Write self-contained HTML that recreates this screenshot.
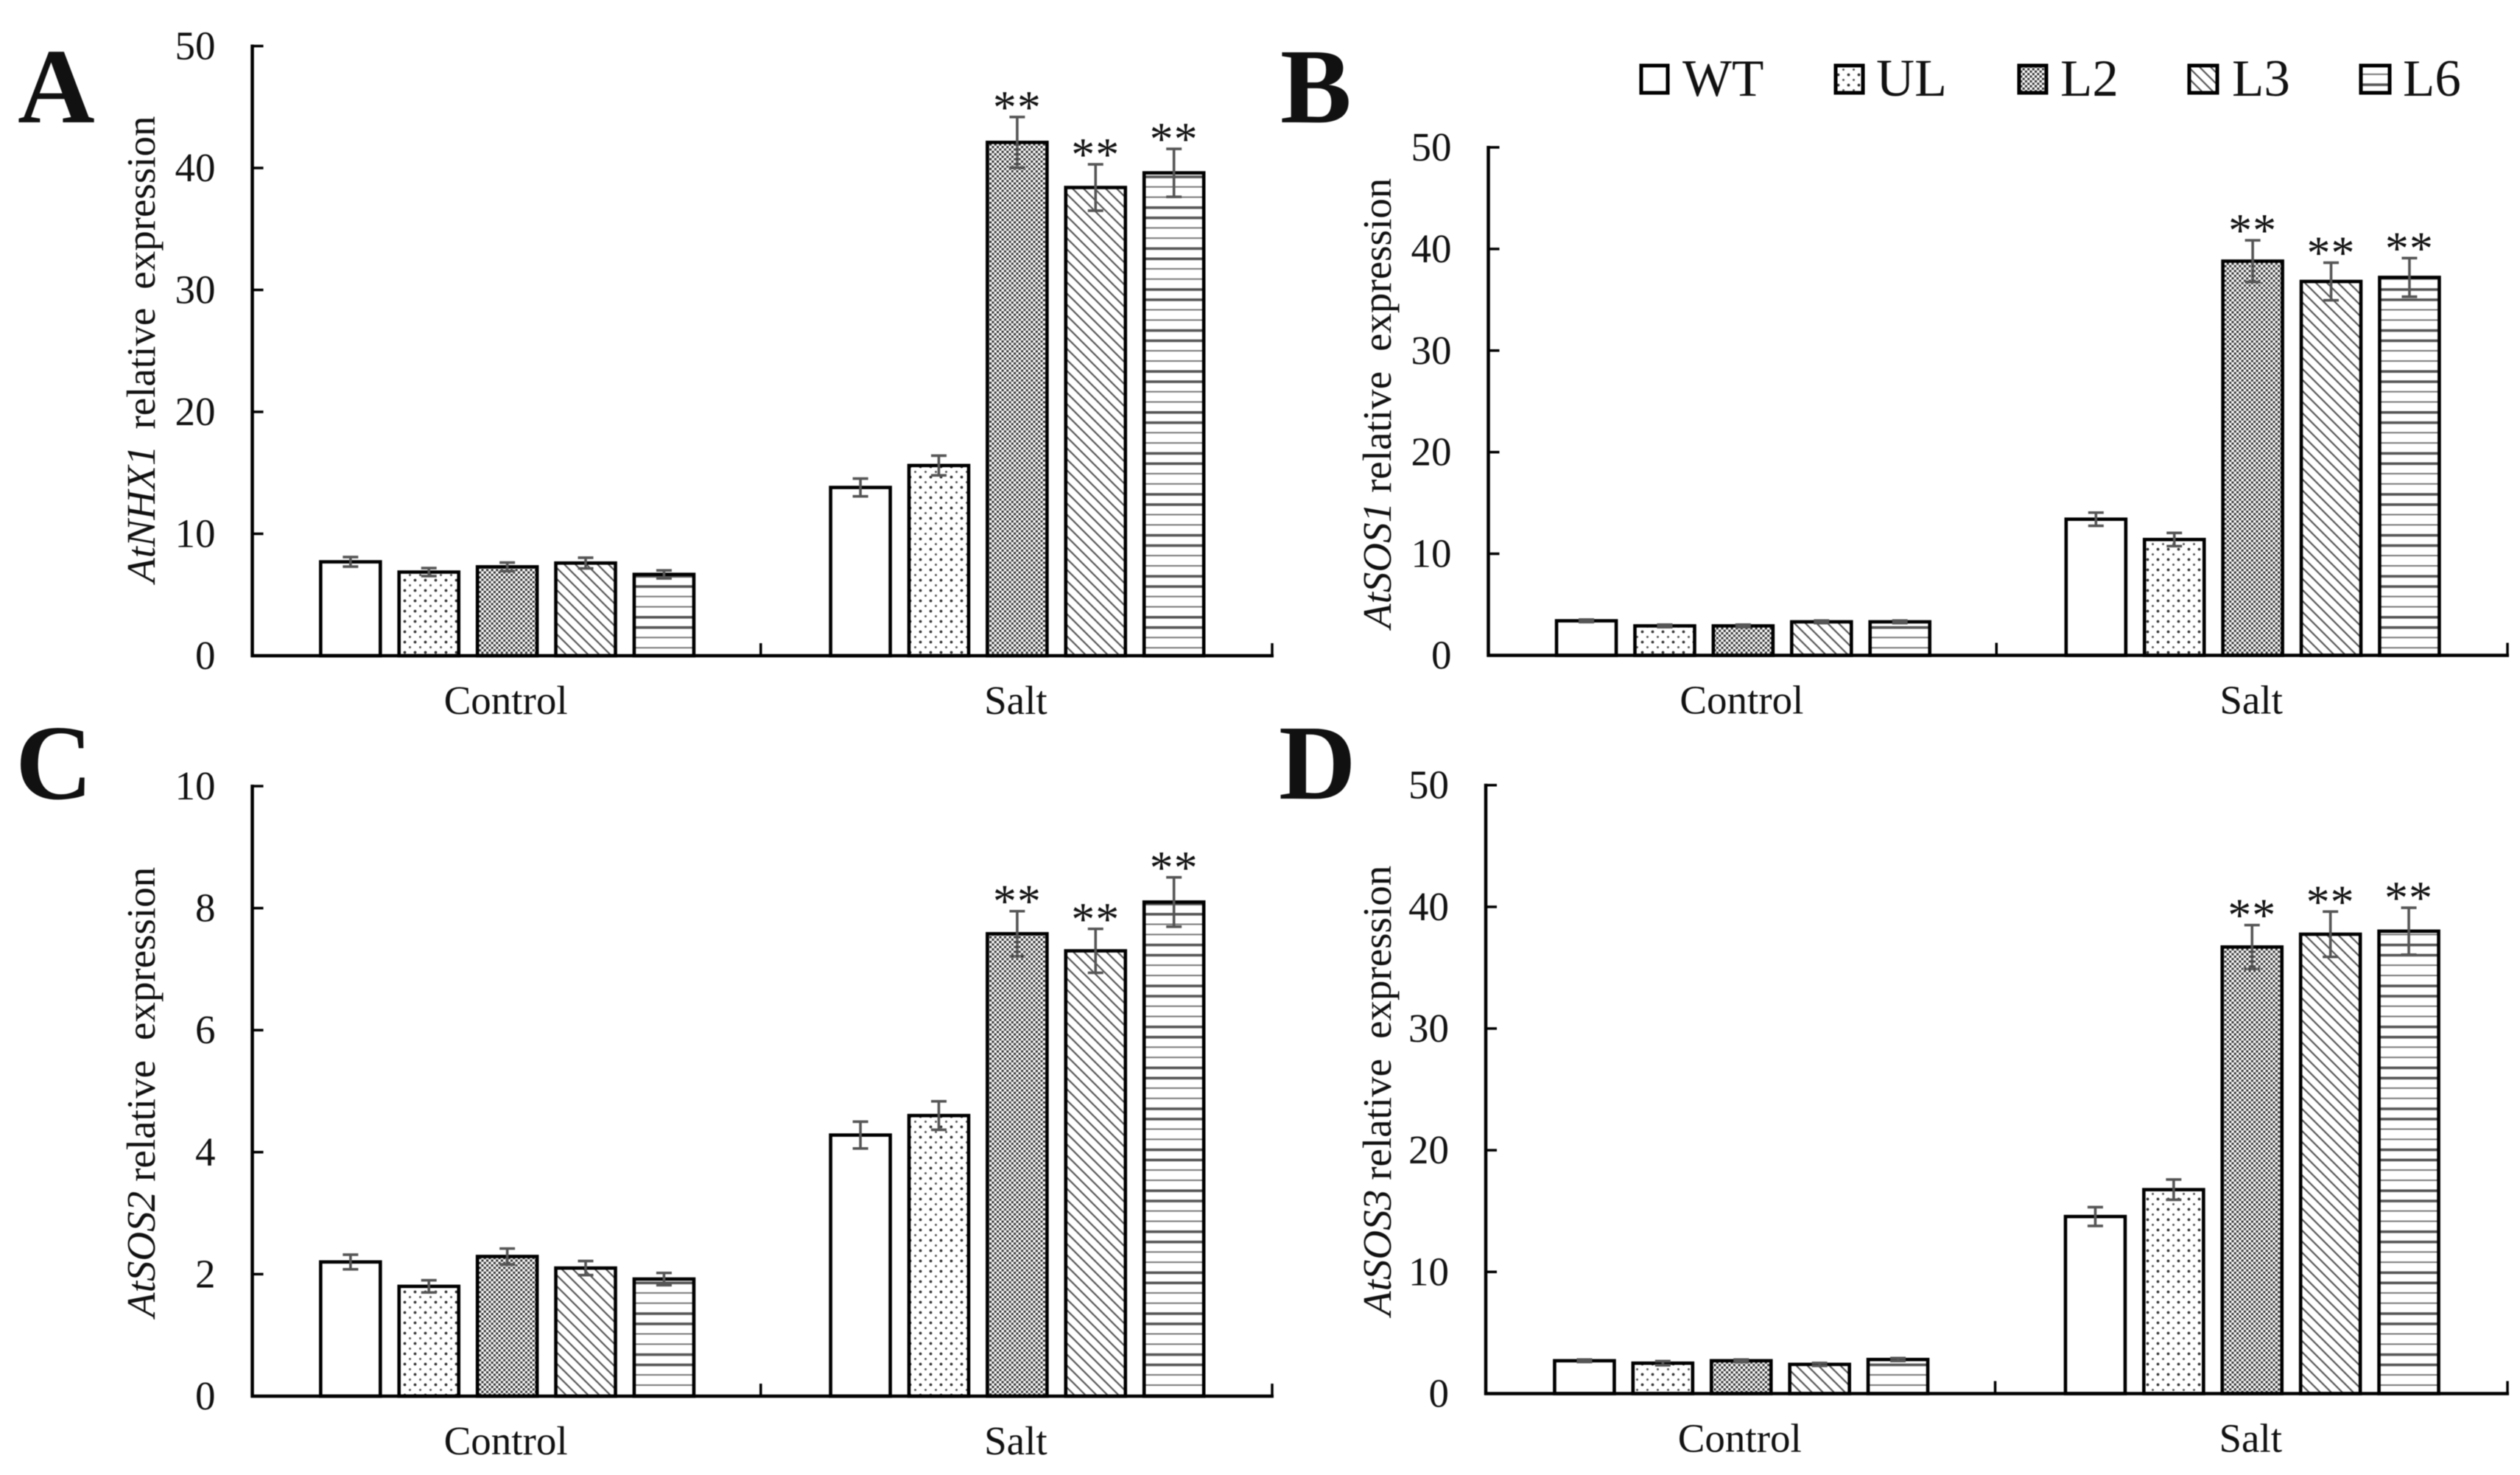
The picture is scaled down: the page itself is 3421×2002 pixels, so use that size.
<!DOCTYPE html>
<html lang="en">
<head>
<meta charset="utf-8">
<title>Relative expression of salt-response genes</title>
<style>
html,body{margin:0;padding:0;background:#fff;}
svg{display:block;font-family:"Liberation Serif",serif;filter:blur(0.6px);}
text{fill:#111;}
</style>
</head>
<body>
<svg id="figure" xmlns="http://www.w3.org/2000/svg" width="3421" height="2002" viewBox="0 0 3421 2002">
  <defs>
    <pattern id="fill-wt" patternUnits="userSpaceOnUse" width="10" height="10">
      <rect width="10" height="10" fill="#fff"/>
    </pattern>
    <pattern id="fill-ul" patternUnits="userSpaceOnUse" width="14" height="14">
      <rect width="14" height="14" fill="#fff"/>
      <circle cx="3.5" cy="3.5" r="1.9" fill="#333"/>
      <circle cx="10.5" cy="10.5" r="1.5" fill="#555"/>
    </pattern>
    <pattern id="fill-l2" patternUnits="userSpaceOnUse" width="6.6" height="6.6">
      <rect width="6.6" height="6.6" fill="#fff"/>
      <rect x="0" y="0" width="3.1" height="3.1" fill="#333"/>
      <rect x="3.3" y="3.3" width="3.1" height="3.1" fill="#333"/>
    </pattern>
    <pattern id="fill-l3" patternUnits="userSpaceOnUse" width="15" height="15">
      <rect width="15" height="15" fill="#fff"/>
      <path d="M-2,-2 L17,17 M-2,13 L2,17 M13,-2 L17,2" stroke="#555" stroke-width="2.2" fill="none"/>
    </pattern>
    <pattern id="fill-l6" patternUnits="userSpaceOnUse" width="55.6" height="55.6">
      <rect width="55.6" height="55.6" fill="#fff"/>
      <rect y="2" width="55.6" height="3.6" fill="#555"/>
      <rect y="15.9" width="55.6" height="3.6" fill="#555"/>
      <rect y="30.3" width="55.6" height="2" fill="#777"/>
      <rect y="44.2" width="55.6" height="2" fill="#777"/>
    </pattern>
  </defs>

  <text x="24" y="166" font-size="145" font-weight="bold">A</text>
  <text x="1738" y="166" font-size="145" font-weight="bold">B</text>
  <text x="21" y="1084" font-size="145" font-weight="bold">C</text>
  <text x="1736" y="1084" font-size="145" font-weight="bold">D</text>

  <g>
    <rect x="2228" y="89" width="36" height="37" fill="url(#fill-wt)" stroke="#000" stroke-width="5"/>
    <text x="2284" y="130" font-size="71">WT</text>
    <rect x="2492" y="89" width="37" height="37" fill="url(#fill-ul)" stroke="#000" stroke-width="5"/>
    <text x="2547" y="130" font-size="72">UL</text>
    <rect x="2741" y="89" width="37" height="37" fill="url(#fill-l2)" stroke="#000" stroke-width="5"/>
    <text x="2797" y="130" font-size="71">L2</text>
    <rect x="2972" y="89" width="38" height="37" fill="url(#fill-l3)" stroke="#000" stroke-width="5"/>
    <text x="3030" y="130" font-size="71">L3</text>
    <rect x="3205" y="89" width="39" height="37" fill="url(#fill-l6)" stroke="#000" stroke-width="5"/>
    <text x="3262" y="130" font-size="71">L6</text>
  </g>
</svg>

<script>
const categories = ['Control', 'Salt'];
const seriesNames = ['WT', 'UL', 'L2', 'L3', 'L6'];
const significantSalt = [false, false, true, true, true];

const panelATicks = [0, 10, 20, 30, 40, 50];
const panelAControl = [7.7, 6.86, 7.29, 7.6, 6.67];
const panelAControlErr = [0.39, 0.33, 0.35, 0.44, 0.33];
const panelASalt = [13.8, 15.6, 42.1, 38.4, 39.6];
const panelASaltErr = [0.73, 0.81, 2.08, 1.9, 1.97];

const panelBTicks = [0, 10, 20, 30, 40, 50];
const panelBControl = [3.4, 2.9, 2.9, 3.3, 3.3];
const panelBControlErr = [0.12, 0.12, 0.12, 0.12, 0.12];
const panelBSalt = [13.4, 11.4, 38.8, 36.8, 37.2];
const panelBSaltErr = [0.65, 0.65, 2.05, 1.85, 1.9];

const panelCTicks = [0, 2, 4, 6, 8, 10];
const panelCControl = [2.2, 1.8, 2.29, 2.1, 1.92];
const panelCControlErr = [0.12, 0.1, 0.13, 0.115, 0.1];
const panelCSalt = [4.28, 4.6, 7.58, 7.3, 8.1];
const panelCSaltErr = [0.22, 0.233, 0.37, 0.36, 0.405];

const panelDTicks = [0, 10, 20, 30, 40, 50];
const panelDControl = [2.7, 2.5, 2.7, 2.4, 2.8];
const panelDControlErr = [0.1, 0.17, 0.1, 0.12, 0.12];
const panelDSalt = [14.55, 16.76, 36.7, 37.75, 38];
const panelDSaltErr = [0.77, 0.83, 1.8, 1.86, 1.93];

const NS = 'http://www.w3.org/2000/svg';
const root = document.getElementById('figure');
const fills = ['fill-wt', 'fill-ul', 'fill-l2', 'fill-l3', 'fill-l6'];
const BAR_STEP = 106.4;
const BAR_WIDTH = 81;

function make(tag, attrs, parent, text) {
  const node = document.createElementNS(NS, tag);
  for (const key in attrs) node.setAttribute(key, attrs[key]);
  if (text !== undefined) node.textContent = text;
  parent.appendChild(node);
  return node;
}

function drawPanel(p) {
  const g = make('g', {}, root);
  
  

  const maxTick = p.ticks[p.ticks.length - 1];
  const yScale = v => p.y0 - (v / maxTick) * (p.y0 - p.yTop);
  const plotW = p.xEnd - p.x0;
  const bandCenter = c => p.x0 + plotW * (c + 0.5) / categories.length;

  // y axis
  const yAxis = make('line', {x1: p.x0, x2: p.x0, y1: p.yTop - 2, y2: p.y0 + 2, stroke: '#000', 'stroke-width': 4.5}, g);
  
  

  p.ticks.forEach(t => {
    const y = yScale(t);
    const mark = make('line', {x1: p.x0, x2: p.x0 + 15, y1: y, y2: y, stroke: '#000', 'stroke-width': 3.5}, g);
    
    
    const label = make('text', {x: p.x0 - 50, y: y + 18, 'text-anchor': 'end', 'font-size': 55}, g, String(t));
    
    
  });

  // y axis title
  const title = make('text', {
    x: p.titleX, y: p.titleY, 'font-size': 55,
    transform: 'rotate(-90 ' + p.titleX + ' ' + p.titleY + ')'
  }, g);
  
  
  make('tspan', {'font-style': 'italic'}, title, p.gene);
  make('tspan', {dx: p.gaps[0]}, title, 'relative');
  make('tspan', {dx: p.gaps[1]}, title, 'expression');

  // bars
  p.groups.forEach((values, c) => {
    const cx = bandCenter(c);
    values.forEach((v, s) => {
      const x = cx + (s - 2) * BAR_STEP;
      const y = yScale(v);
      const bar = make('rect', {
        x: x - BAR_WIDTH / 2, y: y, width: BAR_WIDTH, height: p.y0 - y,
        fill: 'url(#' + fills[s] + ')', stroke: '#000', 'stroke-width': 4.6
      }, g);
      
      
    });
  });

  // error bars and significance marks
  p.groups.forEach((values, c) => {
    const cx = bandCenter(c);
    values.forEach((v, s) => {
      const x = cx + (s - 2) * BAR_STEP;
      const e = p.errors[c][s];
      const hi = yScale(v + e);
      const lo = yScale(v - e);
      const err = make('path', {
        d: 'M' + (x - 10.5) + ',' + hi + 'H' + (x + 10.5) + 'M' + x + ',' + hi + 'V' + lo + 'M' + (x - 10.5) + ',' + lo + 'H' + (x + 10.5),
        stroke: '#555', 'stroke-width': 3.6, fill: 'none'
      }, g);
      
      
      if (c === 1 && significantSalt[s]) {
        const star = make('text', {x: x, y: hi + 8, 'text-anchor': 'middle', 'font-size': 64, 'letter-spacing': 1, 'font-weight': 'normal'}, g, '**');
        
        
      }
    });
  });

  // x axis
  const xAxis = make('line', {x1: p.x0 - 2, x2: p.xEnd + 2, y1: p.y0, y2: p.y0, stroke: '#000', 'stroke-width': 4.5}, g);
  
  
  [p.x0 + plotW / 2 - 2, p.xEnd].forEach((x, i) => {
    const mark = make('line', {x1: x, x2: x, y1: p.y0, y2: p.y0 - 17, stroke: '#000', 'stroke-width': 3.5}, g);
    
    
  });
  categories.forEach((name, c) => {
    const label = make('text', {x: bandCenter(c) - 2, y: p.y0 + 79, 'text-anchor': 'middle', 'font-size': 55}, g, name);
    
    
  });
}

drawPanel({id: 'a', gene: 'AtNHX1', x0: 342.5, xEnd: 1727, y0: 890, yTop: 62.5,
  titleX: 210, titleY: 791, gaps: [22, 25],
  ticks: panelATicks, groups: [panelAControl, panelASalt], errors: [panelAControlErr, panelASaltErr]});
drawPanel({id: 'b', gene: 'AtSOS1', x0: 2020.5, xEnd: 3404, y0: 889.5, yTop: 200,
  titleX: 1888, titleY: 853, gaps: [13, 27],
  ticks: panelBTicks, groups: [panelBControl, panelBSalt], errors: [panelBControlErr, panelBSaltErr]});
drawPanel({id: 'c', gene: 'AtSOS2', x0: 342.5, xEnd: 1727, y0: 1895, yTop: 1067,
  titleX: 210, titleY: 1788, gaps: [13, 27],
  ticks: panelCTicks, groups: [panelCControl, panelCSalt], errors: [panelCControlErr, panelCSaltErr]});
drawPanel({id: 'd', gene: 'AtSOS3', x0: 2017, xEnd: 3404, y0: 1891.5, yTop: 1065.7,
  titleX: 1888, titleY: 1786, gaps: [13, 27],
  ticks: panelDTicks, groups: [panelDControl, panelDSalt], errors: [panelDControlErr, panelDSaltErr]});
</script>
</body>
</html>
